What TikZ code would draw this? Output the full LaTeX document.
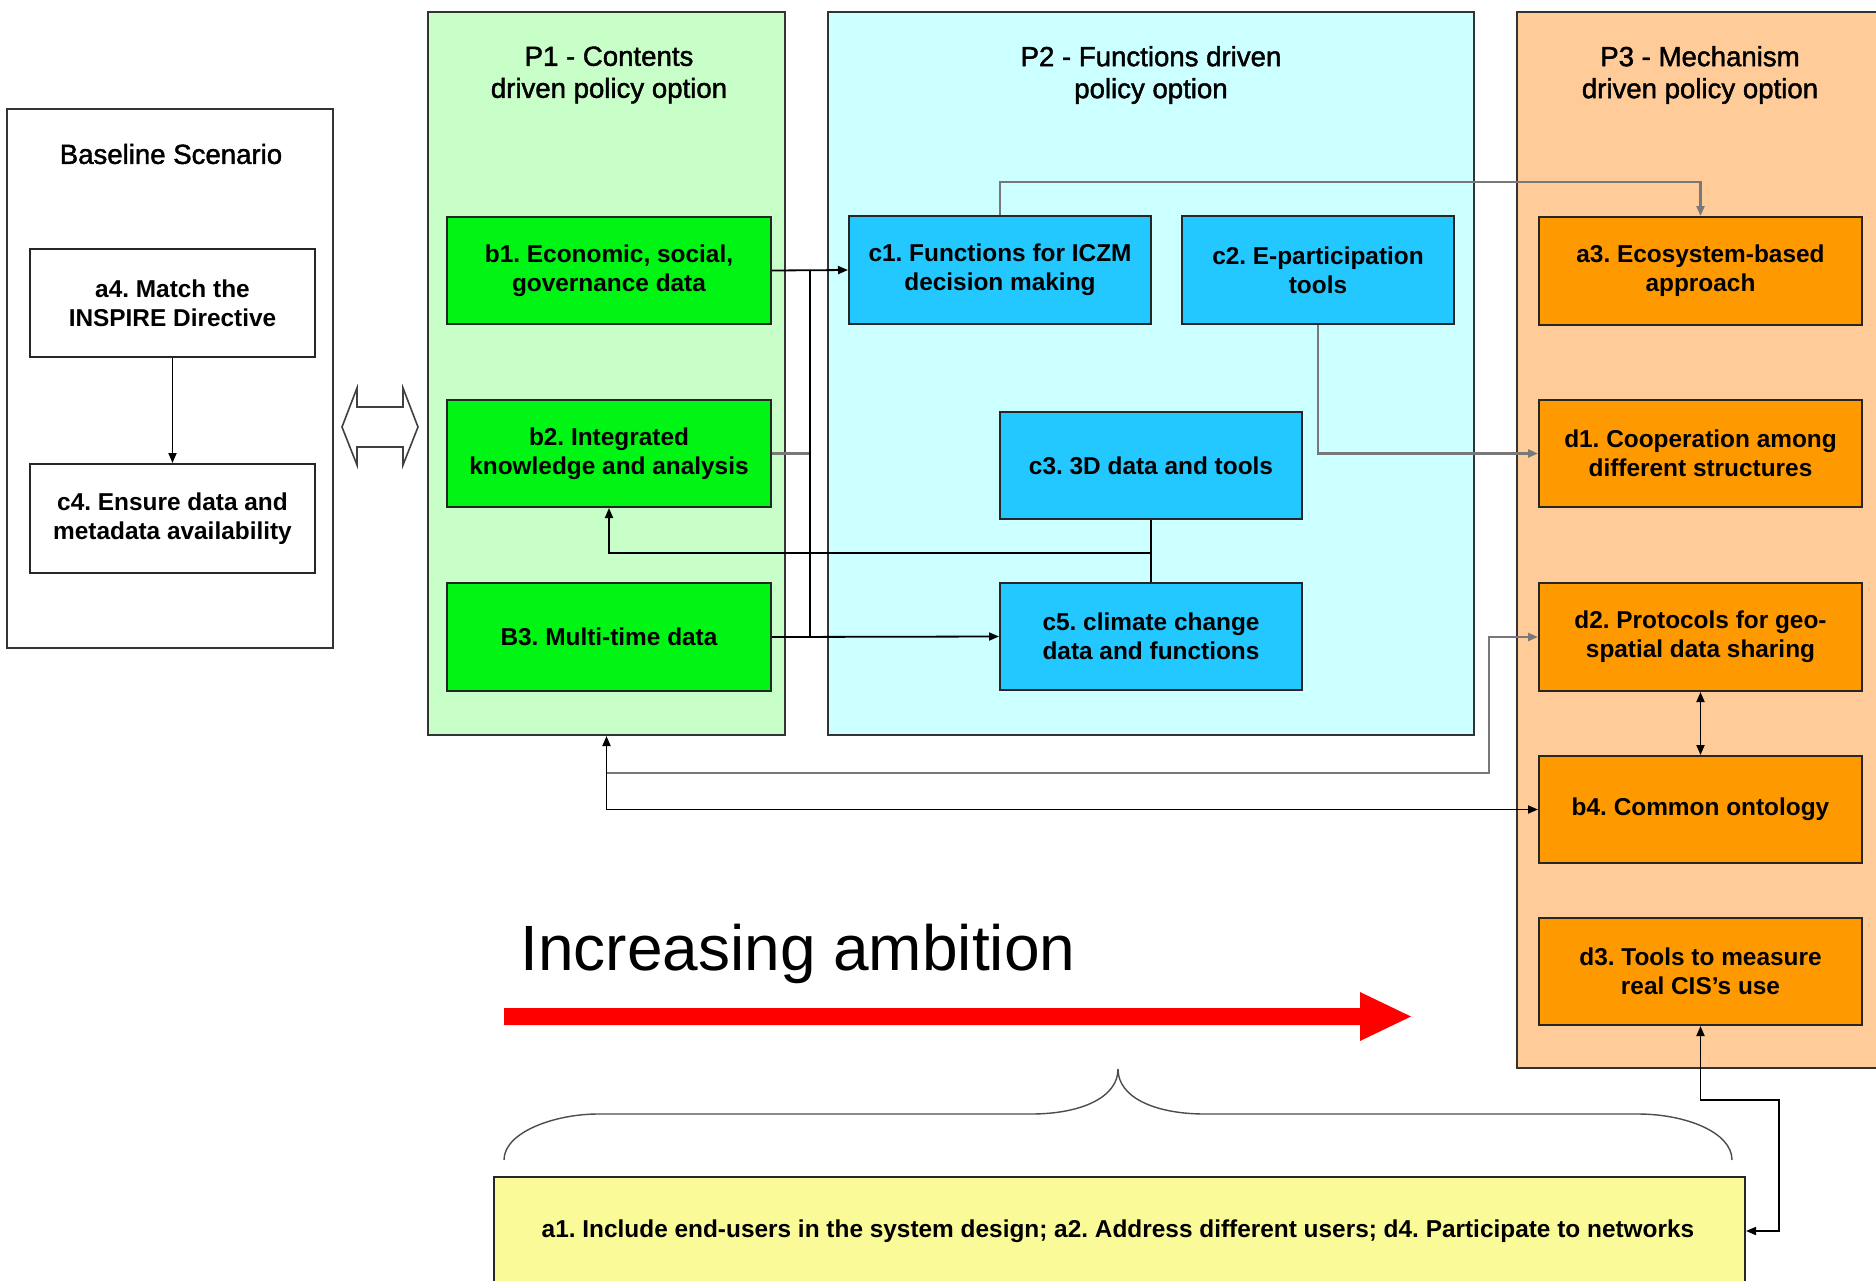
\documentclass[tikz,border=0pt]{standalone}
\usepackage{fontspec}
\setmainfont{Liberation Sans}
\newfontfamily\titlefam[FakeBold=1.6]{Liberation Sans}
\usetikzlibrary{fit,arrows.meta}
\frenchspacing
\definecolor{pgreen}{RGB}{200,255,200}
\definecolor{pcyan}{RGB}{204,255,255}
\definecolor{ppeach}{RGB}{255,204,153}
\definecolor{bgreen}{RGB}{0,245,20}
\definecolor{cblue}{RGB}{34,200,255}
\definecolor{dorange}{RGB}{255,153,0}
\definecolor{yel}{RGB}{250,250,152}
\definecolor{gline}{RGB}{120,120,120}
\newcommand{\boxfont}{\frenchspacing\bfseries\fontsize{12.2}{14.4}\selectfont}
\newcommand{\titlefont}{\titlefam\fontsize{13.8}{16}\selectfont}
\newcommand{\card}[4]{%
  \node[card, fill=#2, fit={#3}] (#1) {};
  \node[cardtext] (#1-t) at (#1.center) {#4};}
\begin{document}
\begin{tikzpicture}[x=0.5pt,y=-0.5pt,
  panel/.style={draw=black!80, line width=1pt, inner sep=0pt},
  card/.style={draw=black!85, line width=1pt, inner sep=0pt},
  cardtext/.style={align=center, font=\boxfont, inner sep=0pt},
  ttl/.style={align=center, font=\titlefont, inner sep=0pt},
  conn/.style={line width=0.9pt, draw=black},
  gconn/.style={line width=1.1pt, draw=gline},
  tip/.style={-{Triangle[length=5pt,width=4pt]}},
  tips/.style={{Triangle[length=5pt,width=4pt]}-{Triangle[length=5pt,width=4pt]}}
]
\useasboundingbox (0,0) rectangle (1876,1281);
\fill[white] (0,0) rectangle (1876,1281);

% panels
\node[panel, fill=white, fit={(7,109) (333,648)}] (base) {};
\node[panel, fill=pgreen, fit={(428,12) (785,735)}] (P1) {};
\node[panel, fill=pcyan, fit={(828,12) (1474,735)}] (P2) {};
\node[panel, fill=ppeach, fit={(1517,12) (1884,1068)}] (P3) {};

% titles
\node[ttl] (tb) at (171,154) {Baseline Scenario};
\node[ttl] (t1) at (609,75) {P1 - Contents\\driven policy option};
\node[ttl] (t2) at (1151,75) {P2 - Functions driven\\policy option};
\node[ttl] (t3) at (1700,75) {P3 - Mechanism\\driven policy option};

% baseline boxes
\card{a4}{white}{(30,249) (315,357)}{a4. Match the\\INSPIRE Directive}
\card{c4}{white}{(30,464) (315,573)}{c4. Ensure data and\\metadata availability}

% P1 boxes
\card{b1}{bgreen}{(447,217) (771,324)}{b1. Economic, social,\\governance data}
\card{b2}{bgreen}{(447,400) (771,507)}{b2. Integrated\\knowledge and analysis}
\card{B3}{bgreen}{(447,583) (771,691)}{B3. Multi-time data}

% P2 boxes
\card{c1}{cblue}{(849,216) (1151,324)}{c1. Functions for ICZM\\decision making}
\card{c2}{cblue}{(1182,216) (1454,324)}{c2. E-participation\\tools}
\card{c3}{cblue}{(1000,412) (1302,519)}{c3. 3D data and tools}
\card{c5}{cblue}{(1000,583) (1302,690)}{c5. climate change\\data and functions}

% P3 boxes
\card{a3}{dorange}{(1539,217) (1862,325)}{a3. Ecosystem-based\\approach}
\card{d1}{dorange}{(1539,400) (1862,507)}{d1. Cooperation among\\different structures}
\card{d2}{dorange}{(1539,583) (1862,691)}{d2. Protocols for geo-\\spatial data sharing}
\card{b4}{dorange}{(1539,756) (1862,863)}{b4. Common ontology}
\card{d3}{dorange}{(1539,918) (1862,1025)}{d3. Tools to measure\\real CIS's use}

% yellow box
\node[card, fill=yel, fit={(494,1177) (1745,1284)}] (yb) {};
\node[cardtext] (yb-t) at (1118,1231) {a1. Include end-users in the system design; a2. Address different users; d4. Participate to networks};

% double arrow between baseline and P1
\draw[draw=black!75, line width=0.8pt, fill=white]
  (342,427) -- (357,388) -- (357,407) -- (403,407) -- (403,388) -- (418,427)
  -- (403,465) -- (403,447) -- (357,447) -- (357,465) -- cycle;

% junction coordinates
\coordinate (j1) at (810,270);
\coordinate (j2) at (1151,553);
\coordinate (k1) at (1000,182);
\coordinate (m1) at (1489,773);
\coordinate (n1) at (1779,1100);

% connectors
\draw[conn, tip] (a4.south) -- (c4.north);
\draw[conn, tip] (b1.east) -- (c1.west);
\draw[gconn] (b2.east) -- (b2.east -| j1);
\draw[conn] (j1) -- (j1 |- B3.east);
\draw[conn, tip] (B3.east) -- (c5.west);
\draw[conn] (c3.south) -- (c5.north);
\draw[conn, tip] (j2) -| (b2.south);
\draw[gconn, tip] (c1.north) -- (k1) -| (a3.north);
\draw[gconn, tip] (c2.south) |- (d1.west);
\draw[conn, tips] (d2.south) -- (b4.north);
\draw[gconn, tip] (P1.south |- m1) -- (m1) |- (d2.west);
\draw[conn, tips] (P1.south) |- (b4.west);
\draw[conn, tips] (d3.south) |- (n1) |- (yb.east |- yb-t);

% increasing ambition
\node[anchor=base west, inner sep=0pt, font=\fontsize{32}{36}\selectfont] (amb) at (520,970) {Increasing ambition};
\fill[red] (504,1008) -- (1360,1008) -- (1360,992) -- (1411,1016.5) -- (1360,1041) -- (1360,1025) -- (504,1025) -- cycle;

% brace
\draw[draw=black!70, line width=0.7pt]
  (504,1160) .. controls (504,1132) and (555,1114) .. (598,1114) -- (1031,1114)
  .. controls (1080,1114) and (1118,1098) .. (1118,1069)
  .. controls (1118,1098) and (1156,1114) .. (1205,1114) -- (1638,1114)
  .. controls (1685,1114) and (1732,1132) .. (1732,1160);
\end{tikzpicture}
\end{document}
